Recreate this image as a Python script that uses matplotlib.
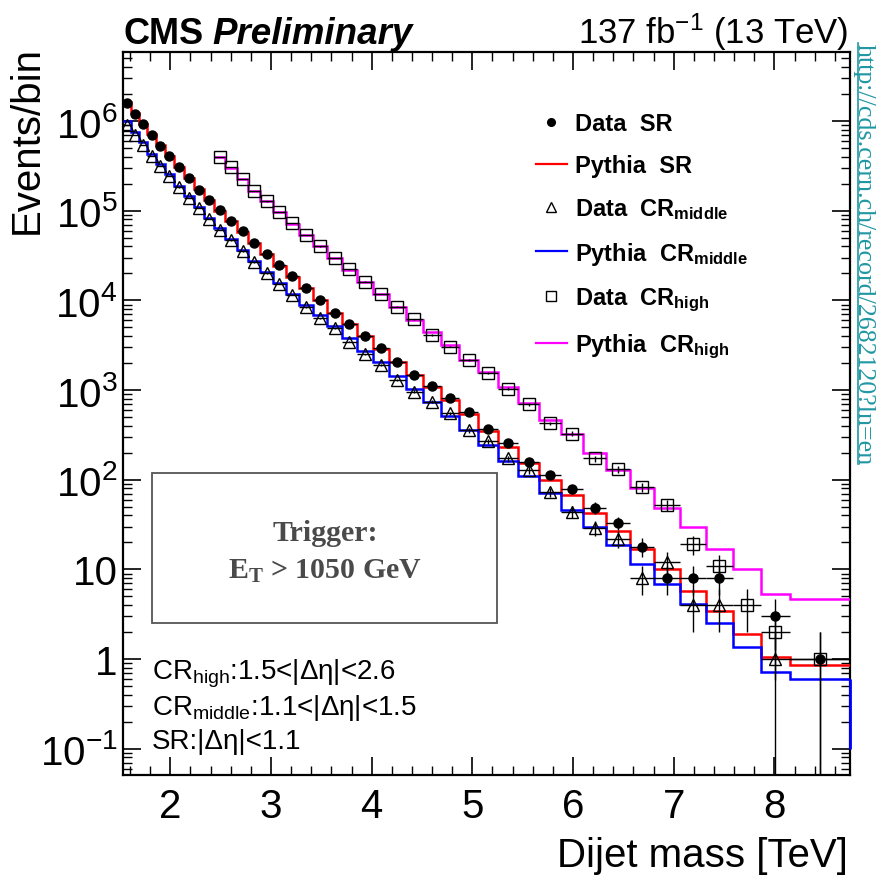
import numpy as np
import matplotlib
matplotlib.use('Agg')
import matplotlib.pyplot as plt
from matplotlib.lines import Line2D
from matplotlib.patches import Rectangle
from matplotlib.ticker import FixedLocator, MultipleLocator, LogLocator, NullFormatter

plt.rcParams['font.family'] = ['Liberation Sans', 'DejaVu Sans']
plt.rcParams['mathtext.fontset'] = 'custom'
plt.rcParams['mathtext.rm'] = 'Liberation Sans'
plt.rcParams['mathtext.bf'] = 'Liberation Sans:bold'
plt.rcParams['mathtext.it'] = 'Liberation Sans:italic'
plt.rcParams['mathtext.sf'] = 'Liberation Serif:bold'

# dijet mass bin edges in GeV (last bin merged)
edges_gev = [1530, 1607, 1687, 1770, 1856, 1945, 2037, 2132, 2231, 2332, 2438,
             2546, 2659, 2775, 2895, 3019, 3147, 3279, 3416, 3558, 3704, 3854,
             4010, 4171, 4337, 4509, 4686, 4869, 5058, 5253, 5455, 5663, 5877,
             6099, 6328, 6564, 6808, 7060, 7320, 7589, 7866, 8152, 8752]

data_sr = [1.60e6, 1.21e6, 9.3e5, 7.06e5, 5.32e5, 4.06e5, 3.08e5, 2.32e5, 1.72e5,
           1.33e5, 1.01e5, 7.63e4, 5.89e4, 4.36e4, 3.31e4, 2.46e4, 1.85e4, 1.37e4,
           1.01e4, 7.33e3, 5.42e3, 4.06e3, 2.92e3, 2.04e3, 1.47e3, 1.12e3, 822, 574,
           373, 258, 158, 114, 78, 49, 33, 18, 8, 8, 8, 0, 3, 1]

pythia_sr = [1.62e6, 1.22e6, 9.3e5, 7.1e5, 5.35e5, 4.05e5, 3.08e5, 2.32e5, 1.73e5,
             1.32e5, 1.0e5, 7.6e4, 5.8e4, 4.35e4, 3.3e4, 2.45e4, 1.84e4, 1.36e4,
             1.0e4, 7.3e3, 5.4e3, 4.0e3, 2.9e3, 2.05e3, 1.48e3, 1.08e3, 780, 545,
             348, 233, 155, 99, 67, 43, 27, 17, 10.2, 5.8, 3.4, 1.9, 1.05, 0.85]

data_crm = [9.1e5, 7.06e5, 5.46e5, 4.06e5, 3.18e5, 2.42e5, 1.82e5, 1.38e5, 1.07e5,
            8.07e4, 6.13e4, 4.67e4, 3.52e4, 2.65e4, 2.01e4, 1.53e4, 1.15e4, 8.4e3,
            6.32e3, 4.89e3, 3.47e3, 2.51e3, 1.90e3, 1.29e3, 960, 742, 549, 355,
            270, 173, 128, 73, 44, 29, 22, 8, 12, 4, 4, 0, 1, 0]

pythia_crm = [1.0e6, 7.6e5, 5.8e5, 4.35e5, 3.35e5, 2.55e5, 1.9e5, 1.45e5, 1.1e5,
              8.4e4, 6.4e4, 4.85e4, 3.65e4, 2.75e4, 2.08e4, 1.56e4, 1.18e4, 8.9e3,
              6.8e3, 5.2e3, 3.8e3, 2.75e3, 2.05e3, 1.45e3, 1.04e3, 745, 520, 360,
              245, 160, 110, 72, 46, 30, 18.5, 11.6, 6.9, 4.1, 2.5, 1.36, 0.71, 0.6]

nan = np.nan
data_crh = [nan] * 10 + [
            3.95e5, 3.05e5, 2.28e5, 1.67e5, 1.27e5, 9.7e4, 7.3e4, 5.4e4, 4.0e4,
            2.96e4, 2.22e4, 1.62e4, 1.18e4, 8.55e3, 6.17e3, 4.12e3, 3.05e3, 2.15e3,
            1.54e3, 1.04e3, 692, 425, 328, 173, 131, 83, 52, 19, 11, 4, 2, 1]

pythia_crh = [nan] * 10 + [
              4.0e5, 3.0e5, 2.25e5, 1.68e5, 1.27e5, 9.6e4, 7.2e4, 5.4e4, 4.0e4,
              2.95e4, 2.2e4, 1.62e4, 1.18e4, 8.5e3, 6.05e3, 4.49e3, 3.18e3, 2.16e3,
              1.61e3, 1.09e3, 710, 462, 320, 198, 128, 80, 49, 29.8, 17, 10.2, 5.36, 4.7]

ytick_vals = [1e-1, 1, 10, 1e2, 1e3, 1e4, 1e5, 1e6]
ytick_labels = [r'$\mathregular{10^{-1}}$', '1', '10', r'$\mathregular{10^{2}}$',
                r'$\mathregular{10^{3}}$', r'$\mathregular{10^{4}}$',
                r'$\mathregular{10^{5}}$', r'$\mathregular{10^{6}}$']
xtick_vals = [2, 3, 4, 5, 6, 7, 8]

edges = np.array(edges_gev) / 1000.0
centers = 0.5 * (edges[1:] + edges[:-1])
halfw = 0.5 * (edges[1:] - edges[:-1])

fig = plt.figure(figsize=(8.8, 8.79), dpi=100)
ax = fig.add_axes([0.1398, 0.1172, 0.8262, 0.8225])


def draw_mc(vals, color):
    v = np.array(vals, float)
    first = int(np.argmax(np.isfinite(v)))
    ax.stairs(v[first:], edges[first:], color=color, lw=1.8, baseline=None, zorder=3)


def draw_data(vals, marker, ms, mfc):
    y = np.array(vals, float)
    ok = np.isfinite(y) & (y > 0)
    yv = y[ok]
    err = np.sqrt(yv)
    lo = np.minimum(err, yv * 0.9999)
    ax.errorbar(centers[ok], yv, xerr=halfw[ok], yerr=[lo, err], fmt=marker,
                ms=ms, mfc=mfc, mec='black', mew=1.0, ecolor='black',
                elinewidth=1.0, capsize=0, zorder=5)


draw_mc(pythia_sr, '#ff0000')
draw_mc(pythia_crm, '#0000ff')
draw_mc(pythia_crh, '#ff00ff')
# blue histogram closes down at the right edge
ax.vlines(edges[-1], 0.1, pythia_crm[-1], color='#0000ff', lw=2.0, zorder=4,
          clip_on=False)

draw_data(data_sr, 'o', 6.5, 'black')
draw_data(data_crm, '^', 9, 'none')
draw_data(data_crh, 's', 8.5, 'none')

ax.set_xlim(edges[0], edges[-1])
ax.set_yscale('log')
ax.set_ylim(0.051, 5.9e6)

ax.xaxis.set_major_locator(FixedLocator(xtick_vals))
ax.xaxis.set_minor_locator(MultipleLocator(0.2))
ax.yaxis.set_major_locator(FixedLocator(ytick_vals))
ax.set_yticklabels(ytick_labels)
ax.yaxis.set_minor_locator(LogLocator(base=10, subs=np.arange(2, 10)))
ax.yaxis.set_minor_formatter(NullFormatter())

ax.tick_params(which='both', direction='in', top=True, right=True, labelsize=29)
ax.tick_params(which='major', length=13, width=1.2)
ax.tick_params(which='minor', length=6.5, width=1.0)
ax.tick_params(axis='x', which='major', pad=9)
ax.tick_params(axis='y', which='major', pad=4)
for s in ax.spines.values():
    s.set_linewidth(1.6)

ax.set_xlabel('Dijet mass [TeV]', fontsize=29, loc='right')
ax.xaxis.set_label_coords(0.997, -0.085)
ax.set_ylabel('Events/bin', fontsize=29, loc='top')
ax.yaxis.set_label_coords(-0.106, 1.01)

# legend
handles = [Line2D([], [], ls='none', marker='o', color='black', ms=5.5),
           Line2D([], [], color='#ff0000', lw=1.6),
           Line2D([], [], ls='none', marker='^', mfc='none', mec='black', ms=7),
           Line2D([], [], color='#0000ff', lw=1.6),
           Line2D([], [], ls='none', marker='s', mfc='none', mec='black', ms=7.5),
           Line2D([], [], color='#ff00ff', lw=1.6)]
labels = ['Data  SR', 'Pythia  SR', r'Data  CR$_{\mathbf{middle}}$',
          r'Pythia  CR$_{\mathbf{middle}}$', r'Data  CR$_{\mathbf{high}}$',
          r'Pythia  CR$_{\mathbf{high}}$']
ax.legend(handles, labels, loc='upper left', bbox_to_anchor=(0.568, 0.917),
          frameon=False, prop={'weight': 'bold', 'size': 17}, handlelength=1.3,
          handletextpad=0.35, labelspacing=0.8, borderpad=0, borderaxespad=0)

# trigger box
ax.add_patch(Rectangle((0.0395, 0.21), 0.4755, 0.2077, transform=ax.transAxes,
                       fill=False, ec='#555555', lw=1.3, zorder=2))
ax.text(0.278, 0.335, 'Trigger:', transform=ax.transAxes, ha='center', va='center',
        fontsize=21.5, family='Liberation Serif', fontweight='bold', color='#4a4a4a')
ax.text(0.278, 0.283, r'E$_{\mathsf{T}}$ > 1050 GeV', transform=ax.transAxes,
        ha='center', va='center', fontsize=21.5, family='Liberation Serif',
        fontweight='bold', color='#4a4a4a')

# region definitions
region_lines = [r'CR$_{\mathregular{high}}$:1.5<|Δη|<2.6',
                r'CR$_{\mathregular{middle}}$:1.1<|Δη|<1.5',
                'SR:|Δη|<1.1']
for i, txt in enumerate(region_lines):
    ax.text(0.0395, 0.133 - i * 0.048, txt, transform=ax.transAxes,
            fontsize=20, va='baseline', ha='left')

# header
t_cms = ax.text(0.0, 1.0125, 'CMS', transform=ax.transAxes, fontsize=26,
                fontweight='bold', va='baseline', ha='left')
ax.text(0.997, 1.0125, r'137 fb$^{\mathregular{-1}}$ (13 TeV)', transform=ax.transAxes,
        fontsize=25, va='baseline', ha='right')
fig.canvas.draw()
bb = t_cms.get_window_extent()
x_end = ax.transAxes.inverted().transform((bb.x1, bb.y0))[0]
ax.text(x_end + 0.012, 1.0125, 'Preliminary', transform=ax.transAxes, fontsize=26.5,
        fontweight='bold', fontstyle='italic', va='baseline', ha='left')

# source link along the right border
url = fig.text(853 / 880, 1 - 44 / 879, 'http://cds.cern.ch/record/2682120?ln=en',
               rotation=-90, ha='left', va='top', fontsize=18.7,
               family='Liberation Serif', color='#1f97a3')
fig.canvas.draw()
ub = url.get_window_extent()
fx = 857.5 / 880
fy0 = ub.y0 / fig.bbox.height
fy1 = ub.y1 / fig.bbox.height
fig.add_artist(Line2D([fx, fx], [fy0, fy1], transform=fig.transFigure,
                      color='#1f97a3', lw=1.2))

fig.savefig('out.png', dpi=100)
